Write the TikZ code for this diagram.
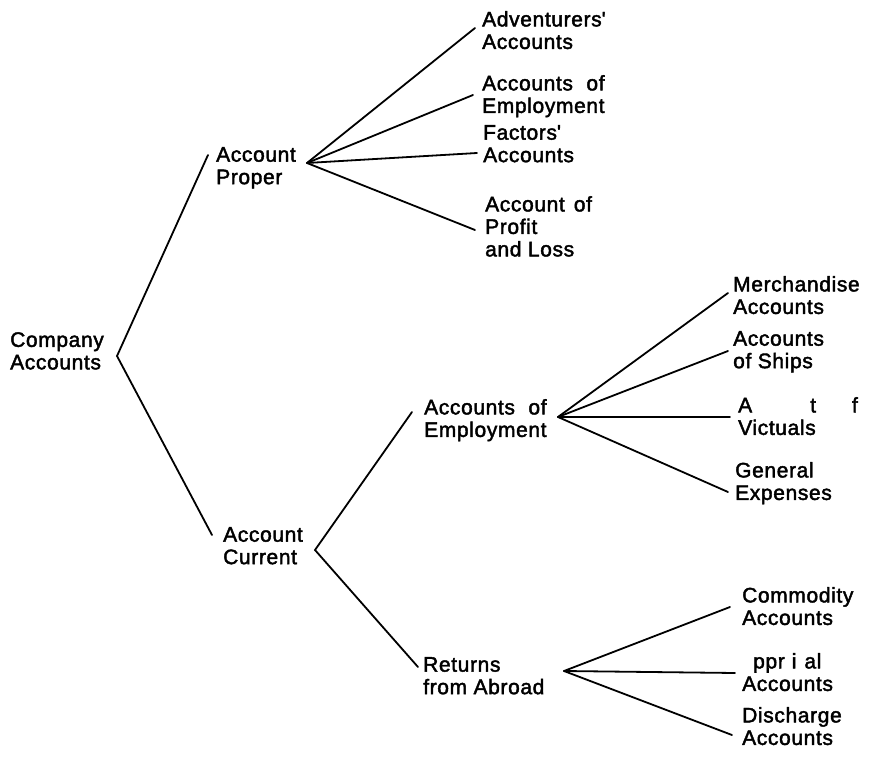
\documentclass[tikz,border=0pt]{standalone}
\usepackage{fontspec}
\setmainfont{Liberation Sans}[LetterSpace=3, FakeBold=2]
\usepackage{tikz}
\usetikzlibrary{calc}

\newlength\jlen
% stretch a short line to the width of the line under it
\newcommand\jline[2]{\settowidth\jlen{#2}\makebox[\jlen][s]{#1}}

\tikzset{
  lbl/.style={font=\fontsize{21}{22.5}\selectfont, align=left, inner sep=0pt, anchor=north west},
  branch/.style={line width=1.8pt, line cap=round}
}

\begin{document}
\begin{tikzpicture}[x=1pt, y=-1pt]
          \useasboundingbox (0,0) rectangle (871,757);
          % labels
          \node[lbl] (company) at (10,332) {Company\\Accounts};
          \node[lbl] (proper) at (216,147) {Account\\Proper};
          \node[lbl] (current) at (223,527) {Account\\Current};
          \node[lbl] (advent) at (482,11) {Adventurers\textquotesingle\\Accounts};
          \node[lbl] (employA) at (482,75) {\jline{Accounts\hfill of}{Employment}\\Employment};
          \node[lbl] (factors) at (483,125) {Factors\textquotesingle\\Accounts};
          \node[lbl] (profit) at (485,196) {Account\hspace{9pt}of\\Profit\\and Loss};
          \node[lbl] (employB) at (424,399) {\jline{Accounts\hfill of}{Employment}\\Employment};
          \node[lbl] (returns) at (423,657) {Returns\\from Abroad};
          \node[lbl] (merch) at (733,276) {Merchandise\\Accounts};
          \node[lbl] (ships) at (733,331) {Accounts\\of Ships};
          \node[lbl] (victuals) at (738,397) {A\hspace{58pt}t\hspace{36pt}f\\Victuals};
          \node[lbl] (general) at (735,462) {General\\Expenses};
          \node[lbl] (commod) at (742,587) {Commodity\\Accounts};
          \node[lbl] (apprais) at (742,653) {\hspace*{11pt}ppr\hspace{7pt}i\hspace{8pt}al\\Accounts};
          \node[lbl] (discharge) at (742,707) {Discharge\\Accounts};
          % junctions
          \coordinate (company-j) at (117,356);
          \coordinate (proper-j) at (307,163);
          \coordinate (current-j) at (315,550);
          \coordinate (employB-j) at (558,417);
          \coordinate (returns-j) at (564,671);
          % branches
          \draw[branch] ([shift={(-8,8)}]proper.north west) -- (company-j) -- ([shift={(-11,8)}]current.north west);
          \draw[branch] (proper-j) -- ([shift={(-7,17)}]advent.north west);
          \draw[branch] (proper-j) -- ([shift={(-9,20)}]employA.north west);
          \draw[branch] (proper-j) -- ([shift={(-6,28)}]factors.north west);
          \draw[branch] (proper-j) -- ([shift={(-10,34)}]profit.north west);
          \draw[branch] ([shift={(-12,13)}]employB.north west) -- (current-j) -- ([shift={(-5,10)}]returns.north west);
          \draw[branch] (employB-j) -- ([shift={(-5,17)}]merch.north west);
          \draw[branch] (employB-j) -- ([shift={(-5,20)}]ships.north west);
          \draw[branch] (employB-j) -- ([shift={(-8,20)}]victuals.north west);
          \draw[branch] (employB-j) -- ([shift={(-7,30)}]general.north west);
          \draw[branch] (returns-j) -- ([shift={(-12,20)}]commod.north west);
          \draw[branch] (returns-j) -- ([shift={(-7,20)}]apprais.north west);
          \draw[branch] (returns-j) -- ([shift={(-10,28)}]discharge.north west);
        \end{tikzpicture}
\end{document}
